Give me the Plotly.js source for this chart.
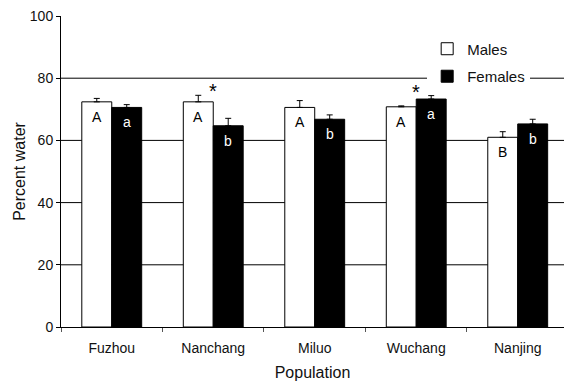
<!DOCTYPE html>
<html>
<head>
<meta charset="utf-8">
<script src="https://cdn.plot.ly/plotly-3.0.1.min.js"></script>
<style>html,body{margin:0;padding:0;background:#fff;}#chart{width:564px;height:383px;}</style>
</head>
<body>
<div id="chart"></div>
<script>
// Data
var populations = ["Fuzhou", "Nanchang", "Miluo", "Wuchang", "Nanjing"];
var malesWater = [72.4, 72.4, 70.6, 70.8, 61.0];
var malesErr = [1.1, 2.1, 2.2, 0.3, 1.8];
var femalesWater = [70.6, 64.7, 66.8, 73.3, 65.3];
var femalesErr = [0.9, 2.4, 1.4, 1.1, 1.5];
var maleLetters = ["A", "A", "A", "A", "B"];
var femaleLetters = ["a", "b", "b", "a", "b"];
var significant = [false, true, false, true, false];
var gridValues = [20, 40, 60, 80];
var yTicks = [0, 20, 40, 60, 80, 100];

var FONT = "Liberation Sans, Arial, sans-serif";
var zeros = populations.map(function(){return 0;});

var males = {
  type: "bar", name: "Males", x: populations, y: malesWater, legendgroup: "m",
  marker: {color: "#ffffff", line: {color: "#000000", width: 1}},
  error_y: {type: "data", array: malesErr, arrayminus: zeros, symmetric: false,
            color: "#000000", thickness: 1, width: 3},
  hoverinfo: "x+y"
};
var females = {
  type: "bar", name: "Females", x: populations, y: femalesWater, legendgroup: "f",
  marker: {color: "#000000", line: {color: "#000000", width: 1}},
  error_y: {type: "data", array: femalesErr, arrayminus: zeros, symmetric: false,
            color: "#000000", thickness: 1, width: 3},
  hoverinfo: "x+y"
};

var annotations = [];
populations.forEach(function(p, i){
  annotations.push({x: p, y: malesWater[i], xref: "x", yref: "y", text: maleLetters[i],
    showarrow: false, xshift: -15, yanchor: "top", yshift: -5,
    font: {family: FONT, size: 14, color: "#000000"}});
  annotations.push({x: p, y: femalesWater[i], xref: "x", yref: "y", text: femaleLetters[i],
    showarrow: false, xshift: 15, yanchor: "top", yshift: -5,
    font: {family: FONT, size: 14, color: "#ffffff"}});
  if (significant[i]) {
    var top = Math.max(malesWater[i] + malesErr[i], femalesWater[i] + femalesErr[i]);
    annotations.push({x: p, y: top, xref: "x", yref: "y", text: "*",
      showarrow: false, yanchor: "bottom", yshift: -9,
      font: {family: FONT, size: 20, color: "#000000"}});
  }
});

var shapes = gridValues.map(function(v){
  return {type: "line", xref: "paper", yref: "y", x0: 0, x1: 1, y0: v, y1: v,
          line: {color: "#000000", width: 1}, layer: "below"};
});

var layout = {
  width: 564, height: 383,
  margin: {l: 61, r: 0, t: 16, b: 56, pad: 0},
  paper_bgcolor: "#ffffff", plot_bgcolor: "#ffffff",
  font: {family: FONT, size: 14, color: "#111111"},
  barmode: "group", bargap: 0.41, bargroupgap: 0,
  showlegend: true,
  legend: {x: 0.728, y: 0.947, xanchor: "left", yanchor: "top",
           bgcolor: "#ffffff", borderwidth: 0, itemwidth: 30, tracegroupgap: 5,
           font: {family: FONT, size: 15, color: "#111111"}},
  xaxis: {
    type: "category", range: [-0.5, 4.456],
    showline: true, linecolor: "#000000", linewidth: 1,
    ticks: "outside", tickson: "boundaries", ticklen: 4, tickcolor: "#555555",
    ticklabelstandoff: 8,
    showgrid: false, zeroline: false,
    tickfont: {family: FONT, size: 14, color: "#111111"},
    title: {text: "Population", font: {family: FONT, size: 16, color: "#111111"}, standoff: 12}
  },
  yaxis: {
    range: [0, 100], tickvals: yTicks, ticktext: yTicks.map(String),
    showline: true, linecolor: "#000000", linewidth: 1,
    ticks: "outside", ticklen: 4, tickcolor: "#000000",
    showgrid: false, zeroline: false,
    tickfont: {family: FONT, size: 14, color: "#111111"},
    title: {text: "Percent water", font: {family: FONT, size: 16, color: "#111111"}, standoff: 0}
  },
  shapes: shapes,
  annotations: annotations
};

Plotly.newPlot("chart", [males, females], layout, {displayModeBar: false, staticPlot: true});
</script>
</body>
</html>
